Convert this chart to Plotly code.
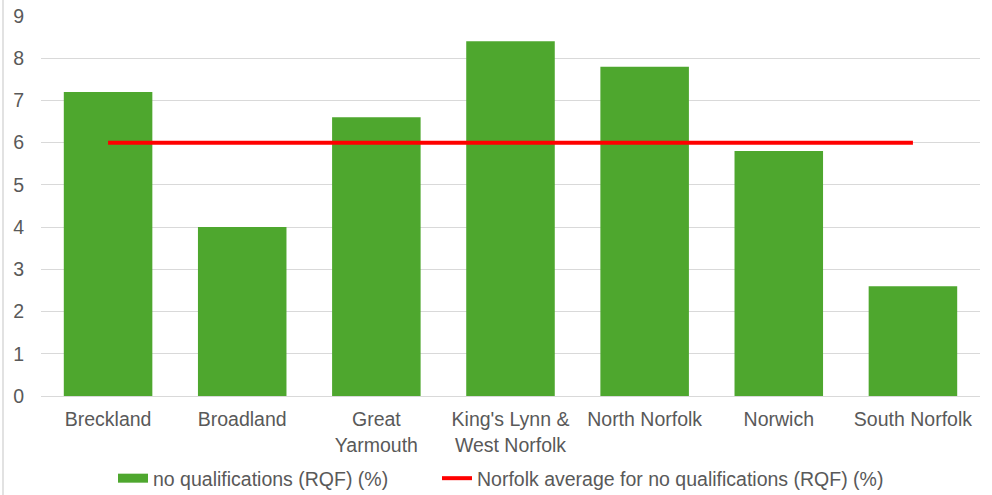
import plotly.graph_objects as go

# District labels and values
districts = ["Breckland", "Broadland", "Great<br>Yarmouth", "King's Lynn &<br>West Norfolk",
             "North Norfolk", "Norwich", "South Norfolk"]
no_quals_pct = [7.2, 4.0, 6.6, 8.4, 7.8, 5.8, 2.6]
norfolk_avg_pct = [6.0, 6.0, 6.0, 6.0, 6.0, 6.0, 6.0]
y_ticks = [0, 1, 2, 3, 4, 5, 6, 7, 8, 9]

W, H = 992, 495
ML, MR, MT, MB = 41, 12, 16, 99
GREEN, RED, GREY, TEXT = "#4EA72E", "#FF0000", "#D9D9D9", "#595959"
FONT = "Liberation Sans, Arial, sans-serif"

fig = go.Figure()
fig.add_trace(go.Bar(
    x=districts, y=no_quals_pct,
    name="no qualifications (RQF) (%)", showlegend=False,
    marker=dict(color=GREEN, line=dict(width=0)),
))
# legend key for the bars: a short thick swatch
fig.add_trace(go.Scatter(
    x=[None], y=[None], mode="lines",
    name="no qualifications (RQF) (%)", legend="legend",
    line=dict(color=GREEN, width=9),
))
fig.add_trace(go.Scatter(
    x=districts, y=norfolk_avg_pct, mode="lines",
    name="Norfolk average for no qualifications (RQF) (%)", legend="legend2",
    line=dict(color=RED, width=4),
))

# thin border along the left edge of the chart
fig.add_shape(type="line", xref="paper", yref="paper",
              x0=(3 - ML) / (W - ML - MR), x1=(3 - ML) / (W - ML - MR),
              y0=-MB / (H - MT - MB), y1=1 + MT / (H - MT - MB),
              line=dict(color=GREY, width=1.5))

legend_common = dict(orientation="h", xref="container", yref="container",
                     xanchor="left", y=1 - 478.5 / H, yanchor="middle",
                     font=dict(size=19.5, color=TEXT),
                     bgcolor="rgba(0,0,0,0)", borderwidth=0)

fig.update_layout(
    width=W, height=H,
    margin=dict(l=ML, r=MR, t=MT, b=MB, autoexpand=False),
    paper_bgcolor="white", plot_bgcolor="white",
    bargap=0.34,
    font=dict(family=FONT, size=19.5, color=TEXT),
    showlegend=True,
    legend=dict(x=113 / W, **legend_common),
    legend2=dict(x=437 / W, **legend_common),
    xaxis=dict(showgrid=False, showline=True, linecolor=GREY, linewidth=1,
               ticks="", automargin=False, ticklabelstandoff=6,
               tickfont=dict(size=19.5, color=TEXT)),
    yaxis=dict(range=[0, 9], tickvals=y_ticks, showgrid=True, gridcolor=GREY,
               gridwidth=1.3, zeroline=False, showline=False, automargin=False,
               tickfont=dict(size=19.5, color=TEXT), ticklabelstandoff=16),
)

fig.write_html("out.html")
